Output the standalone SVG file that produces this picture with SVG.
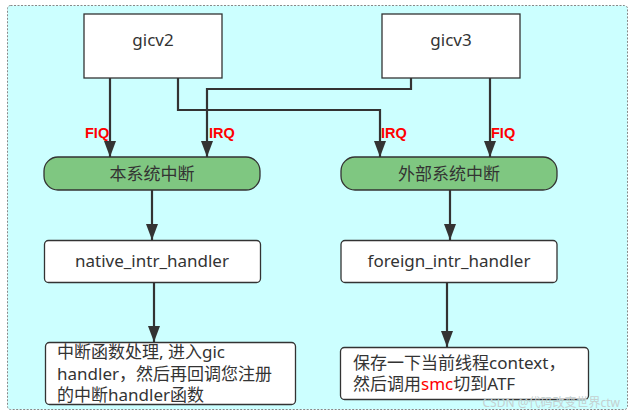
<svg xmlns="http://www.w3.org/2000/svg" width="634" height="418" viewBox="0 0 634 418">
<style>
  .t { font-family: "Noto Sans", "Noto Sans CJK SC", sans-serif; fill: #333; font-size: 17px; }
  .d { font-size: 17px; }
  .c { text-anchor: middle; }
  .lbl { font-family: "Liberation Sans", "Noto Sans", sans-serif; font-weight: bold; fill: #ff0000; font-size: 14.5px; }
  .box { fill: #ffffff; stroke: #333; stroke-width: 1.3; }
  .pill { fill: #7fc781; stroke: #333; stroke-width: 1.3; }
  .ln { fill: none; stroke: #333; stroke-width: 2.2; }
</style>
<defs>
  <marker id="ah2" viewBox="0 0 16 12" refX="16" refY="6" markerWidth="16" markerHeight="12" markerUnits="userSpaceOnUse" orient="auto">
    <path d="M0,0 L16,6 L0,12 Z" fill="#333"/>
  </marker>
</defs>
<rect x="7.5" y="5.5" width="620" height="404" rx="3" fill="#ccffff" stroke="#888" stroke-width="1" stroke-dasharray="2,1.5"/>

<g id="connectors">
  <path class="ln" d="M110,78 V157" marker-end="url(#ah2)"/>
  <path class="ln" d="M411,78 V89 H207 V157" marker-end="url(#ah2)"/>
  <path class="ln" d="M178,64 V110 H380 V157" marker-end="url(#ah2)"/>
  <path class="ln" d="M490,75 V157" marker-end="url(#ah2)"/>
  <path class="ln" d="M152,190 V240" marker-end="url(#ah2)"/>
  <path class="ln" d="M450,190 V240" marker-end="url(#ah2)"/>
  <path class="ln" d="M154,282 V342" marker-end="url(#ah2)"/>
  <path class="ln" d="M447,282 V347" marker-end="url(#ah2)"/>
  <text class="lbl" x="85" y="138">FIQ</text>
  <text class="lbl" x="209" y="138">IRQ</text>
  <text class="lbl" x="381" y="138">IRQ</text>
  <text class="lbl" x="491" y="138">FIQ</text>
</g>

<g id="gicv2">
  <rect class="box" x="84" y="14" width="138" height="64"/>
  <text class="t c" x="153" y="46">gicv2</text>
</g>
<g id="gicv3">
  <rect class="box" x="382" y="14" width="138" height="64"/>
  <text class="t c" x="451" y="46">gicv3</text>
</g>
<g id="native_irq">
  <rect class="pill" x="44" y="157" width="216" height="33" rx="14"/>
  <text class="t c" x="152" y="180">本系统中断</text>
</g>
<g id="foreign_irq">
  <rect class="pill" x="341" y="157" width="216" height="33" rx="14"/>
  <text class="t c" x="449" y="180">外部系统中断</text>
</g>
<g id="native_handler">
  <rect class="box" x="44.5" y="240.5" width="216" height="42" rx="4"/>
  <text class="t c" x="152" y="267">native_intr_handler</text>
</g>
<g id="foreign_handler">
  <rect class="box" x="341" y="240.5" width="216" height="42" rx="4"/>
  <text class="t c" x="449" y="267">foreign_intr_handler</text>
</g>
<g id="native_desc">
  <rect class="box" x="45.5" y="342.5" width="250" height="62" rx="4"/>
  <text class="t d" x="57" y="358">中断函数处理, 进入gic</text>
  <text class="t d" x="57" y="380">handler，然后再回调您注册</text>
  <text class="t d" x="57" y="401">的中断handler函数</text>
</g>
<g id="foreign_desc">
  <rect class="box" x="340.5" y="347.5" width="248" height="52" rx="4"/>
  <text class="t d" x="353" y="369">保存一下当前线程context，</text>
  <text class="t d" x="353" y="390">然后调用<tspan fill="#ff0000">smc</tspan>切到ATF</text>
</g>
<text x="620" y="407" text-anchor="end" style="font-family: 'Noto Sans', 'Noto Sans CJK SC', sans-serif; font-size: 12px; fill: #c4d0d0;">CSDN @代码改变世界ctw</text>
</svg>
